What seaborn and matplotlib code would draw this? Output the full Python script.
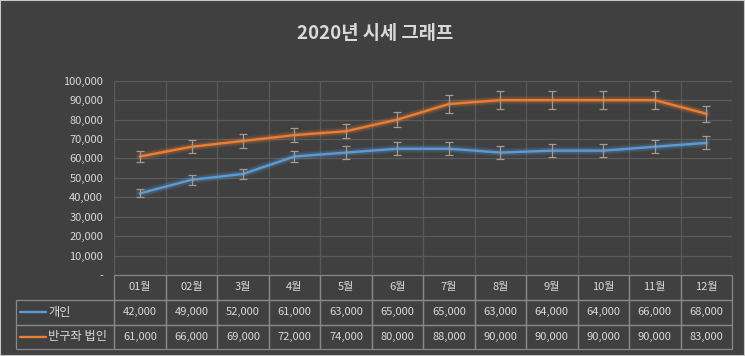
#!/usr/bin/env python3

import numpy as np
import pandas as pd
import seaborn as sns
import matplotlib.pyplot as plt
import matplotlib.patheffects as pe
from matplotlib.table import Table
from matplotlib.patches import Rectangle
from matplotlib.ticker import FuncFormatter

months = ['01월', '02월', '3월', '4월', '5월', '6월', '7월', '8월', '9월', '10월', '11월', '12월']
series_names = ['개인', '반구좌 법인']
personal = [42000, 49000, 52000, 61000, 63000, 65000, 65000, 63000, 64000, 64000, 66000, 68000]
corporate = [61000, 66000, 69000, 72000, 74000, 80000, 88000, 90000, 90000, 90000, 90000, 83000]
colors = ['#5B9BD5', '#ED7D31']
error_pct = 0.05

BG = '#404040'
TXT = '#d9d9d9'
GRID = '#5a5a5a'
EDGE = '#888888'


def make_chart(outputfig):
    sns.set_theme(style='dark')
    plt.rcParams['font.family'] = ['Noto Sans CJK KR', 'DejaVu Sans']

    pos = np.arange(len(months))
    df = pd.DataFrame({
        'pos': np.concatenate([pos, pos]),
        'value': personal + corporate,
        'series': [series_names[0]] * len(months) + [series_names[1]] * len(months),
    })

    fig = plt.figure(figsize=(7.45, 3.56), dpi=100, facecolor=BG)
    ax = fig.add_axes([0.1534, 0.2275, 0.8292, 0.5458])
    ax.set_facecolor(BG)

    sns.lineplot(data=df, x='pos', y='value', hue='series', palette=colors,
                 linewidth=1.7, legend=False, ax=ax, zorder=3)
    for line, c in zip(ax.lines, colors):
        line.set_path_effects([pe.Stroke(linewidth=6, foreground=c, alpha=0.12),
                               pe.Stroke(linewidth=4, foreground=c, alpha=0.2),
                               pe.Normal()])

    for vals in (personal, corporate):
        v = np.array(vals)
        ax.errorbar(pos, v, yerr=v * error_pct, fmt='none', ecolor='#a39a93',
                    elinewidth=0.9, capsize=3, capthick=0.9, zorder=4)

    ax.set_xlim(-0.5, len(months) - 0.5)
    ax.set_ylim(0, 100000)
    ax.set_yticks(np.arange(0, 100001, 10000))
    ax.yaxis.set_major_formatter(FuncFormatter(lambda v, p: '-' if v == 0 else f'{v:,.0f}'))
    ax.set_xticks(pos)
    ax.set_xticklabels([])
    ax.set_xticks(np.arange(-0.5, len(months), 1), minor=True)
    ax.tick_params(axis='y', length=0, pad=8, labelsize=8, labelcolor=TXT)
    ax.tick_params(axis='x', which='both', length=0)
    ax.grid(False)
    ax.grid(axis='y', which='major', color=GRID, linewidth=0.9)
    ax.grid(axis='x', which='minor', color=GRID, linewidth=0.9)
    ax.set_xlabel('')
    ax.set_ylabel('')
    for s in ax.spines.values():
        s.set_visible(False)

    # data table under the plot
    lab_w = 98 / 617.7
    tbl_h = 74.3 / 194.3
    rh = 1.0
    tbl = Table(ax, bbox=[-lab_w, -tbl_h, 1 + lab_w, tbl_h])
    for j, m in enumerate(months):
        tbl.add_cell(0, j + 1, width=51.5, height=rh, text=m, loc='center',
                     facecolor='none', edgecolor=EDGE)
    for i, vals in enumerate((personal, corporate)):
        tbl.add_cell(i + 1, 0, width=98, height=rh, text='', facecolor='none', edgecolor=EDGE)
        for j, v in enumerate(vals):
            tbl.add_cell(i + 1, j + 1, width=51.5, height=rh, text=f'{v:,}', loc='center',
                         facecolor='none', edgecolor=EDGE)
    tbl.auto_set_font_size(False)
    tbl.set_fontsize(8)
    for cell in tbl.get_celld().values():
        cell.get_text().set_color(TXT)
        cell.set_linewidth(0.9)
    ax.add_table(tbl)

    # legend keys inside the row label cells
    for i, (name, c) in enumerate(zip(series_names, colors)):
        yc = -tbl_h + tbl_h * (2 - i - 0.5) / 3
        ax.plot([-0.1527, -0.1106], [yc, yc], transform=ax.transAxes, color=c,
                linewidth=1.7, clip_on=False)
        ax.text(-0.1074, yc, name, transform=ax.transAxes, ha='left', va='center',
                fontsize=8.8, color=TXT)

    fig.text(0.503, 0.907, '2020년 시세 그래프', ha='center', va='center',
             fontsize=13.5, fontweight='bold', color=TXT)
    fig.patches.append(Rectangle((0, 0), 1, 1, transform=fig.transFigure, fill=False,
                                 edgecolor='#c8c8c8', linewidth=1.5))

    fig.savefig(outputfig, dpi=100, facecolor=BG)
    plt.close(fig)


def main():
    make_chart('out.png')


if __name__ == '__main__':
    main()
